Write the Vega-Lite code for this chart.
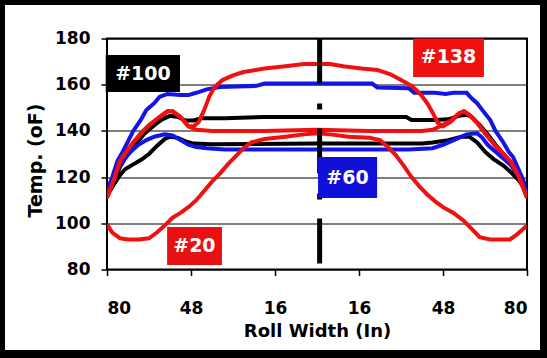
{
  "$schema": "https://vega.github.io/schema/vega-lite/v6.json",
  "width": 420,
  "height": 231,
  "autosize": {"type": "none"},
  "padding": {"left": 107, "top": 38.5, "right": 20, "bottom": 88.5},
  "background": "white",
  "config": {
    "view": {"stroke": "black", "strokeWidth": 2},
    "axis": {
      "labelFont": "DejaVu Sans", "labelFontWeight": "bold", "labelFontSize": 17, "labelColor": "black",
      "titleFont": "DejaVu Sans", "titleFontWeight": "bold", "titleFontSize": 18, "titleColor": "black",
      "tickColor": "black", "domain": false
    }
  },
  "datasets": {
    "curves": [
      {"s": "#100 upper", "x": -80, "y": 112}, {"s": "#100 upper", "x": -77, "y": 119}, {"s": "#100 upper", "x": -75, "y": 124.5}, {"s": "#100 upper", "x": -72, "y": 130}, {"s": "#100 upper", "x": -69, "y": 134.5}, {"s": "#100 upper", "x": -66, "y": 138.5}, {"s": "#100 upper", "x": -62, "y": 142.5}, {"s": "#100 upper", "x": -59, "y": 145}, {"s": "#100 upper", "x": -56, "y": 146.5}, {"s": "#100 upper", "x": -53, "y": 146}, {"s": "#100 upper", "x": -50, "y": 144.5}, {"s": "#100 upper", "x": -47, "y": 144.5}, {"s": "#100 upper", "x": -44, "y": 145.5}, {"s": "#100 upper", "x": -35, "y": 145.5}, {"s": "#100 upper", "x": -20, "y": 146}, {"s": "#100 upper", "x": 0, "y": 146}, {"s": "#100 upper", "x": 20, "y": 146}, {"s": "#100 upper", "x": 34, "y": 146}, {"s": "#100 upper", "x": 36, "y": 144.7}, {"s": "#100 upper", "x": 45, "y": 144.7}, {"s": "#100 upper", "x": 50, "y": 145}, {"s": "#100 upper", "x": 54, "y": 146.5}, {"s": "#100 upper", "x": 57, "y": 147}, {"s": "#100 upper", "x": 59, "y": 146}, {"s": "#100 upper", "x": 62, "y": 142.5}, {"s": "#100 upper", "x": 65, "y": 138.5}, {"s": "#100 upper", "x": 68, "y": 134}, {"s": "#100 upper", "x": 71, "y": 130}, {"s": "#100 upper", "x": 74, "y": 125.5}, {"s": "#100 upper", "x": 77, "y": 120}, {"s": "#100 upper", "x": 80, "y": 113},

      {"s": "#100 lower", "x": -80, "y": 112}, {"s": "#100 lower", "x": -77, "y": 117.5}, {"s": "#100 lower", "x": -75, "y": 121}, {"s": "#100 lower", "x": -73, "y": 123.5}, {"s": "#100 lower", "x": -70, "y": 125.5}, {"s": "#100 lower", "x": -67, "y": 127.5}, {"s": "#100 lower", "x": -64, "y": 130}, {"s": "#100 lower", "x": -61, "y": 133.5}, {"s": "#100 lower", "x": -58, "y": 136.5}, {"s": "#100 lower", "x": -56, "y": 137.5}, {"s": "#100 lower", "x": -53, "y": 137}, {"s": "#100 lower", "x": -50, "y": 135.5}, {"s": "#100 lower", "x": -47, "y": 134.5}, {"s": "#100 lower", "x": -40, "y": 134.2}, {"s": "#100 lower", "x": 0, "y": 134.5}, {"s": "#100 lower", "x": 40, "y": 134.5}, {"s": "#100 lower", "x": 44, "y": 135}, {"s": "#100 lower", "x": 50, "y": 136}, {"s": "#100 lower", "x": 55, "y": 137.5}, {"s": "#100 lower", "x": 58, "y": 137.5}, {"s": "#100 lower", "x": 61, "y": 135}, {"s": "#100 lower", "x": 64, "y": 131}, {"s": "#100 lower", "x": 67, "y": 128}, {"s": "#100 lower", "x": 71, "y": 125}, {"s": "#100 lower", "x": 74, "y": 122}, {"s": "#100 lower", "x": 77, "y": 118.5}, {"s": "#100 lower", "x": 80, "y": 113},

      {"s": "#60 upper", "x": -80, "y": 114}, {"s": "#60 upper", "x": -78, "y": 120}, {"s": "#60 upper", "x": -76, "y": 127}, {"s": "#60 upper", "x": -74, "y": 131}, {"s": "#60 upper", "x": -72, "y": 135.5}, {"s": "#60 upper", "x": -70, "y": 140}, {"s": "#60 upper", "x": -67, "y": 145}, {"s": "#60 upper", "x": -65, "y": 149}, {"s": "#60 upper", "x": -62, "y": 152}, {"s": "#60 upper", "x": -60, "y": 154.7}, {"s": "#60 upper", "x": -57, "y": 156}, {"s": "#60 upper", "x": -52, "y": 155.5}, {"s": "#60 upper", "x": -49, "y": 155.5}, {"s": "#60 upper", "x": -46, "y": 156.5}, {"s": "#60 upper", "x": -42, "y": 158}, {"s": "#60 upper", "x": -37, "y": 159}, {"s": "#60 upper", "x": -23, "y": 159.5}, {"s": "#60 upper", "x": -20, "y": 160.5}, {"s": "#60 upper", "x": 0, "y": 160.5}, {"s": "#60 upper", "x": 21, "y": 160.5}, {"s": "#60 upper", "x": 23, "y": 158.8}, {"s": "#60 upper", "x": 35, "y": 158.5}, {"s": "#60 upper", "x": 37, "y": 156.5}, {"s": "#60 upper", "x": 45, "y": 156.5}, {"s": "#60 upper", "x": 49, "y": 156}, {"s": "#60 upper", "x": 52, "y": 156.5}, {"s": "#60 upper", "x": 57, "y": 156.5}, {"s": "#60 upper", "x": 59, "y": 154}, {"s": "#60 upper", "x": 61, "y": 152}, {"s": "#60 upper", "x": 63, "y": 149}, {"s": "#60 upper", "x": 66, "y": 144.7}, {"s": "#60 upper", "x": 68, "y": 140}, {"s": "#60 upper", "x": 71, "y": 135}, {"s": "#60 upper", "x": 73, "y": 131}, {"s": "#60 upper", "x": 74.7, "y": 128.7}, {"s": "#60 upper", "x": 76.5, "y": 124}, {"s": "#60 upper", "x": 78.5, "y": 119}, {"s": "#60 upper", "x": 80, "y": 113},

      {"s": "#60 lower", "x": -80, "y": 113}, {"s": "#60 lower", "x": -77, "y": 121}, {"s": "#60 lower", "x": -74, "y": 127}, {"s": "#60 lower", "x": -71, "y": 131}, {"s": "#60 lower", "x": -68, "y": 134}, {"s": "#60 lower", "x": -65, "y": 136}, {"s": "#60 lower", "x": -62, "y": 137.5}, {"s": "#60 lower", "x": -58, "y": 138.5}, {"s": "#60 lower", "x": -55, "y": 138}, {"s": "#60 lower", "x": -52, "y": 136}, {"s": "#60 lower", "x": -49, "y": 134}, {"s": "#60 lower", "x": -46, "y": 133}, {"s": "#60 lower", "x": -42, "y": 132.5}, {"s": "#60 lower", "x": -35, "y": 132}, {"s": "#60 lower", "x": 0, "y": 132}, {"s": "#60 lower", "x": 35, "y": 132}, {"s": "#60 lower", "x": 44, "y": 132.5}, {"s": "#60 lower", "x": 48, "y": 134}, {"s": "#60 lower", "x": 51, "y": 135.5}, {"s": "#60 lower", "x": 54, "y": 137}, {"s": "#60 lower", "x": 57, "y": 138.5}, {"s": "#60 lower", "x": 61, "y": 139}, {"s": "#60 lower", "x": 63, "y": 137}, {"s": "#60 lower", "x": 65, "y": 134}, {"s": "#60 lower", "x": 68, "y": 131}, {"s": "#60 lower", "x": 71, "y": 128}, {"s": "#60 lower", "x": 74, "y": 125}, {"s": "#60 lower", "x": 77, "y": 120}, {"s": "#60 lower", "x": 80, "y": 113},

      {"s": "#138 upper", "x": -80, "y": 111}, {"s": "#138 upper", "x": -77, "y": 120}, {"s": "#138 upper", "x": -75, "y": 127}, {"s": "#138 upper", "x": -72, "y": 132}, {"s": "#138 upper", "x": -70, "y": 135}, {"s": "#138 upper", "x": -67, "y": 139}, {"s": "#138 upper", "x": -64, "y": 142.5}, {"s": "#138 upper", "x": -60, "y": 146}, {"s": "#138 upper", "x": -57, "y": 148.5}, {"s": "#138 upper", "x": -55, "y": 148.5}, {"s": "#138 upper", "x": -52, "y": 146}, {"s": "#138 upper", "x": -49, "y": 142}, {"s": "#138 upper", "x": -47, "y": 142}, {"s": "#138 upper", "x": -45, "y": 144}, {"s": "#138 upper", "x": -43, "y": 149}, {"s": "#138 upper", "x": -41, "y": 155}, {"s": "#138 upper", "x": -39, "y": 159}, {"s": "#138 upper", "x": -36, "y": 162}, {"s": "#138 upper", "x": -32, "y": 164}, {"s": "#138 upper", "x": -28, "y": 165.5}, {"s": "#138 upper", "x": -20, "y": 167}, {"s": "#138 upper", "x": -12, "y": 168}, {"s": "#138 upper", "x": -5, "y": 169}, {"s": "#138 upper", "x": 0, "y": 169}, {"s": "#138 upper", "x": 5, "y": 169}, {"s": "#138 upper", "x": 10, "y": 168}, {"s": "#138 upper", "x": 17, "y": 167}, {"s": "#138 upper", "x": 23, "y": 166.4}, {"s": "#138 upper", "x": 28, "y": 164.5}, {"s": "#138 upper", "x": 32, "y": 162}, {"s": "#138 upper", "x": 36, "y": 159.5}, {"s": "#138 upper", "x": 38, "y": 157.5}, {"s": "#138 upper", "x": 40, "y": 155}, {"s": "#138 upper", "x": 42, "y": 152}, {"s": "#138 upper", "x": 44, "y": 148}, {"s": "#138 upper", "x": 46, "y": 143.5}, {"s": "#138 upper", "x": 48, "y": 142}, {"s": "#138 upper", "x": 51, "y": 144}, {"s": "#138 upper", "x": 54, "y": 147.5}, {"s": "#138 upper", "x": 56, "y": 148.5}, {"s": "#138 upper", "x": 58, "y": 147}, {"s": "#138 upper", "x": 61, "y": 143.5}, {"s": "#138 upper", "x": 64, "y": 139}, {"s": "#138 upper", "x": 68, "y": 133.5}, {"s": "#138 upper", "x": 71, "y": 130}, {"s": "#138 upper", "x": 74, "y": 126.5}, {"s": "#138 upper", "x": 77, "y": 120}, {"s": "#138 upper", "x": 80, "y": 111},

      {"s": "#138 lower", "x": -80, "y": 111}, {"s": "#138 lower", "x": -77, "y": 120}, {"s": "#138 lower", "x": -75, "y": 127}, {"s": "#138 lower", "x": -72, "y": 132}, {"s": "#138 lower", "x": -70, "y": 135}, {"s": "#138 lower", "x": -67, "y": 139}, {"s": "#138 lower", "x": -64, "y": 142.5}, {"s": "#138 lower", "x": -60, "y": 146}, {"s": "#138 lower", "x": -57, "y": 148.5}, {"s": "#138 lower", "x": -55, "y": 148.5}, {"s": "#138 lower", "x": -52, "y": 146}, {"s": "#138 lower", "x": -49, "y": 142}, {"s": "#138 lower", "x": -46, "y": 140.5}, {"s": "#138 lower", "x": -40, "y": 140}, {"s": "#138 lower", "x": -20, "y": 140}, {"s": "#138 lower", "x": 0, "y": 140.5}, {"s": "#138 lower", "x": 20, "y": 140}, {"s": "#138 lower", "x": 40, "y": 140}, {"s": "#138 lower", "x": 44, "y": 140.5}, {"s": "#138 lower", "x": 47, "y": 142}, {"s": "#138 lower", "x": 51, "y": 144.5}, {"s": "#138 lower", "x": 54, "y": 147.5}, {"s": "#138 lower", "x": 56, "y": 148.5}, {"s": "#138 lower", "x": 58, "y": 147}, {"s": "#138 lower", "x": 61, "y": 143.5}, {"s": "#138 lower", "x": 64, "y": 139}, {"s": "#138 lower", "x": 68, "y": 133.5}, {"s": "#138 lower", "x": 71, "y": 130}, {"s": "#138 lower", "x": 74, "y": 126.5}, {"s": "#138 lower", "x": 77, "y": 120}, {"s": "#138 lower", "x": 80, "y": 111},

      {"s": "#20", "x": -80, "y": 99.5}, {"s": "#20", "x": -78, "y": 96}, {"s": "#20", "x": -75, "y": 93.5}, {"s": "#20", "x": -72, "y": 93}, {"s": "#20", "x": -68, "y": 93}, {"s": "#20", "x": -64, "y": 93.5}, {"s": "#20", "x": -61, "y": 96}, {"s": "#20", "x": -58, "y": 99}, {"s": "#20", "x": -55, "y": 102.5}, {"s": "#20", "x": -52, "y": 104.5}, {"s": "#20", "x": -49, "y": 107}, {"s": "#20", "x": -46, "y": 110}, {"s": "#20", "x": -43, "y": 114}, {"s": "#20", "x": -40, "y": 118}, {"s": "#20", "x": -37, "y": 121.5}, {"s": "#20", "x": -34, "y": 125.5}, {"s": "#20", "x": -31, "y": 129}, {"s": "#20", "x": -28, "y": 132.5}, {"s": "#20", "x": -25, "y": 135}, {"s": "#20", "x": -20, "y": 136.5}, {"s": "#20", "x": -12, "y": 137.5}, {"s": "#20", "x": -5, "y": 138.5}, {"s": "#20", "x": 0, "y": 139}, {"s": "#20", "x": 5, "y": 138.5}, {"s": "#20", "x": 12, "y": 137.5}, {"s": "#20", "x": 20, "y": 137}, {"s": "#20", "x": 24, "y": 136}, {"s": "#20", "x": 27, "y": 133}, {"s": "#20", "x": 30, "y": 129.5}, {"s": "#20", "x": 33, "y": 125}, {"s": "#20", "x": 36, "y": 120}, {"s": "#20", "x": 39, "y": 116}, {"s": "#20", "x": 42, "y": 112.5}, {"s": "#20", "x": 45, "y": 109.5}, {"s": "#20", "x": 48, "y": 107}, {"s": "#20", "x": 52, "y": 104.5}, {"s": "#20", "x": 56, "y": 101}, {"s": "#20", "x": 59, "y": 97.5}, {"s": "#20", "x": 62, "y": 94}, {"s": "#20", "x": 66, "y": 93}, {"s": "#20", "x": 70, "y": 93}, {"s": "#20", "x": 73.5, "y": 93}, {"s": "#20", "x": 76, "y": 95}, {"s": "#20", "x": 78, "y": 97}, {"s": "#20", "x": 80, "y": 99}
    ],
    "labels": [
      {"label": "#100", "x1": -80.5, "x2": -52.2, "y1": 172.9, "y2": 156.8, "tx": -66.3, "ty": 164.6},
      {"label": "#138", "x1": 36.6, "x2": 63.6, "y1": 180, "y2": 163.3, "tx": 50.1, "ty": 171.8},
      {"label": "#60", "x1": 0.4, "x2": 22.9, "y1": 128.7, "y2": 111, "tx": 11.6, "ty": 119.8},
      {"label": "#20", "x1": -57.1, "x2": -36.2, "y1": 98.4, "y2": 81.9, "tx": -46.7, "ty": 90.2}
    ],
    "center": [{"pos": 1, "top": 180, "bottom": 82}]
  },
  "layer": [
    {
      "data": {"values": [{"frame": "outer"}]},
      "mark": {"type": "rect", "fill": "transparent", "stroke": "black", "strokeWidth": 10, "clip": false},
      "encoding": {
        "x": {"datum": -120.76, "type": "quantitative", "scale": {"domain": [-80, 80], "nice": false, "zero": false}, "title": "Roll Width (In)"},
        "x2": {"datum": 86.86},
        "y": {"datum": 196.67, "type": "quantitative", "scale": {"domain": [80, 180], "nice": false, "zero": false}, "title": "Temp. (oF)"},
        "y2": {"datum": 42.99}
      }
    },
    {
      "data": {"name": "curves"},
      "mark": {"type": "line", "strokeWidth": 4, "clip": true},
      "encoding": {
        "x": {"field": "x", "type": "quantitative", "title": "Roll Width (In)",
          "scale": {"domain": [-80, 80], "nice": false, "zero": false},
          "axis": {"values": [-80, -48, -16, 16, 48, 80], "labelExpr": "abs(datum.value)", "grid": false,
            "tickSize": 6, "tickWidth": 1.5, "labelPadding": 38, "labelBaseline": "alphabetic",
            "titleBaseline": "alphabetic", "titleY": 67, "titleFontSize": 18}},
        "y": {"field": "y", "type": "quantitative", "title": "Temp. (oF)",
          "scale": {"domain": [80, 180], "nice": false, "zero": false},
          "axis": {"values": [80, 100, 120, 140, 160, 180], "grid": true, "gridColor": "black", "gridWidth": 1, "gridOpacity": 1,
            "tickSize": 6, "tickWidth": 1.5, "labelPadding": 11,
            "titleBaseline": "alphabetic", "titleX": -66, "titleY": 121.5, "titleFontSize": 19}},
        "color": {"field": "s", "type": "nominal", "legend": null,
          "scale": {"domain": ["#100 upper", "#100 lower", "#60 upper", "#60 lower", "#138 upper", "#138 lower", "#20"],
                    "range": ["black", "black", "#1414e6", "#1414e6", "#f01010", "#f01010", "#f01010"]}}
      }
    },
    {
      "data": {"name": "center"},
      "mark": {"type": "rule", "color": "black", "strokeWidth": 5, "strokeDash": [45, 20, 6, 19]},
      "encoding": {
        "x": {"field": "pos", "type": "quantitative", "title": "Roll Width (In)"},
        "y": {"field": "top", "type": "quantitative", "title": "Temp. (oF)"},
        "y2": {"field": "bottom"}
      }
    },
    {
      "data": {"name": "labels"},
      "mark": {"type": "rect"},
      "encoding": {
        "x": {"field": "x1", "type": "quantitative", "title": "Roll Width (In)"},
        "x2": {"field": "x2"},
        "y": {"field": "y1", "type": "quantitative", "title": "Temp. (oF)"},
        "y2": {"field": "y2"},
        "fill": {"field": "label", "type": "nominal", "legend": null,
          "scale": {"domain": ["#100", "#138", "#60", "#20"], "range": ["black", "#f01010", "#1010d8", "#e81010"]}}
      }
    },
    {
      "data": {"name": "labels"},
      "mark": {"type": "text", "font": "DejaVu Sans", "fontWeight": "bold", "fontSize": 19, "fill": "white", "align": "center", "baseline": "middle"},
      "encoding": {
        "x": {"field": "tx", "type": "quantitative", "title": "Roll Width (In)"},
        "y": {"field": "ty", "type": "quantitative", "title": "Temp. (oF)"},
        "text": {"field": "label"}
      }
    }
  ]
}
